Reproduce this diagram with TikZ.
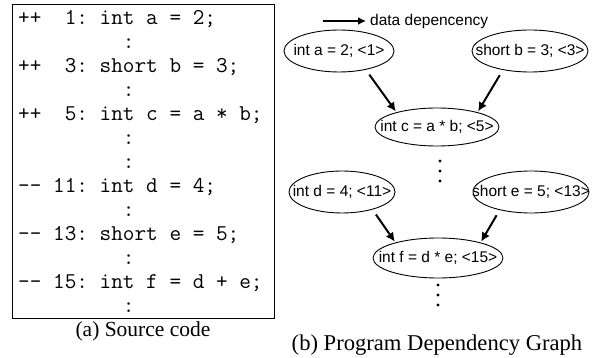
\documentclass[tikz,border=0pt]{standalone}
\usepackage{fontspec}
\setmainfont{Liberation Serif}
\setsansfont{Liberation Sans}
\usetikzlibrary{shapes.geometric,arrows.meta}
\tikzset{
  codeline/.style={anchor=base west, inner sep=0pt, font=\fontsize{22.6}{24}\selectfont\ttfamily\addfontfeature{FakeBold=0.4}\frenchspacing},
  pdgnode/.style={draw, ellipse, line width=0.9pt, inner sep=0pt, font=\fontsize{15.5}{17}\selectfont\sffamily},
  dep/.style={line width=2pt, shorten <=6pt, shorten >=1pt, -{Latex[length=9pt,width=9pt]}},
  caption/.style={inner sep=0pt, font=\fontsize{21.5}{24}\selectfont}
}
\newcommand{\vdotsmark}[1]{\fill #1 ++(0,-10) circle (1.7) #1 circle (1.7) #1 ++(0,10) circle (1.7);}
\begin{document}
\begin{tikzpicture}[x=1pt,y=-1pt]
\useasboundingbox (0,0) rectangle (595,358);
% source code box
\node[draw, line width=1pt, minimum width=262pt, minimum height=314pt, anchor=north west, inner sep=0pt] (box) at (12,4) {};
\node[codeline] (l1) at (18,25) {++\phantom{xx}1: int a = 2;};
\node[codeline] (l2) at (18,49) {\phantom{xxxxxxxxx}:};
\node[codeline] (l3) at (18,73) {++\phantom{xx}3: short b = 3;};
\node[codeline] (l4) at (18,97) {\phantom{xxxxxxxxx}:};
\node[codeline] (l5) at (18,121) {++\phantom{xx}5: int c = a * b;};
\node[codeline] (l6) at (18,145) {\phantom{xxxxxxxxx}:};
\node[codeline] (l7) at (18,169) {\phantom{xxxxxxxxx}:};
\node[codeline] (l8) at (18,193) {-{}- 11: int d = 4;};
\node[codeline] (l9) at (18,217) {\phantom{xxxxxxxxx}:};
\node[codeline] (l10) at (18,241) {-{}- 13: short e = 5;};
\node[codeline] (l11) at (18,265) {\phantom{xxxxxxxxx}:};
\node[codeline] (l12) at (18,289) {-{}- 15: int f = d + e;};
\node[codeline] (l13) at (18,313) {\phantom{xxxxxxxxx}:};
\node[caption] (capa) at (143,331) {(a) Source code};
% legend
\coordinate (legstart) at (323,21);
\node[anchor=west, inner sep=0pt, font=\fontsize{15.5}{17}\selectfont\sffamily] (leg) at (370,21) {data depencency};
\draw[line width=1.6pt, shorten >=4pt, -{Latex[length=8pt,width=8pt]}] (legstart) -- (leg.west);
% graph nodes
\node[pdgnode, minimum width=110pt, minimum height=42pt] (a) at (339,51) {\makebox[0pt]{int a = 2; <1>}};
\node[pdgnode, minimum width=116pt, minimum height=42pt] (b) at (530,51) {\makebox[0pt]{short b = 3; <3>}};
\node[pdgnode, minimum width=124pt, minimum height=38pt] (c) at (437,127) {\makebox[0pt]{int c = a * b; <5>}};
\node[pdgnode, minimum width=106pt, minimum height=42pt] (d) at (342,192) {\makebox[0pt]{int d = 4; <11>}};
\node[pdgnode, minimum width=116pt, minimum height=42pt] (e) at (531,192) {\makebox[0pt]{short e = 5; <13>}};
\node[pdgnode, minimum width=130pt, minimum height=40pt] (f) at (438,258) {\makebox[0pt]{int f = d * e; <15>}};
\coordinate (dots1) at (440,171);
\coordinate (dots2) at (438,295);
\vdotsmark{(dots1)}
\vdotsmark{(dots2)}
% edges
\draw[dep] (a.-35) -- (c.160);
\draw[dep] (b.-145) -- (c.20);
\draw[dep] (d.-30) -- (f.160);
\draw[dep] (e.-150) -- (f.20);
\node[caption, font=\fontsize{22.6}{24}\selectfont] (capb) at (437,345) {(b) Program Dependency Graph};
\end{tikzpicture}
\end{document}
